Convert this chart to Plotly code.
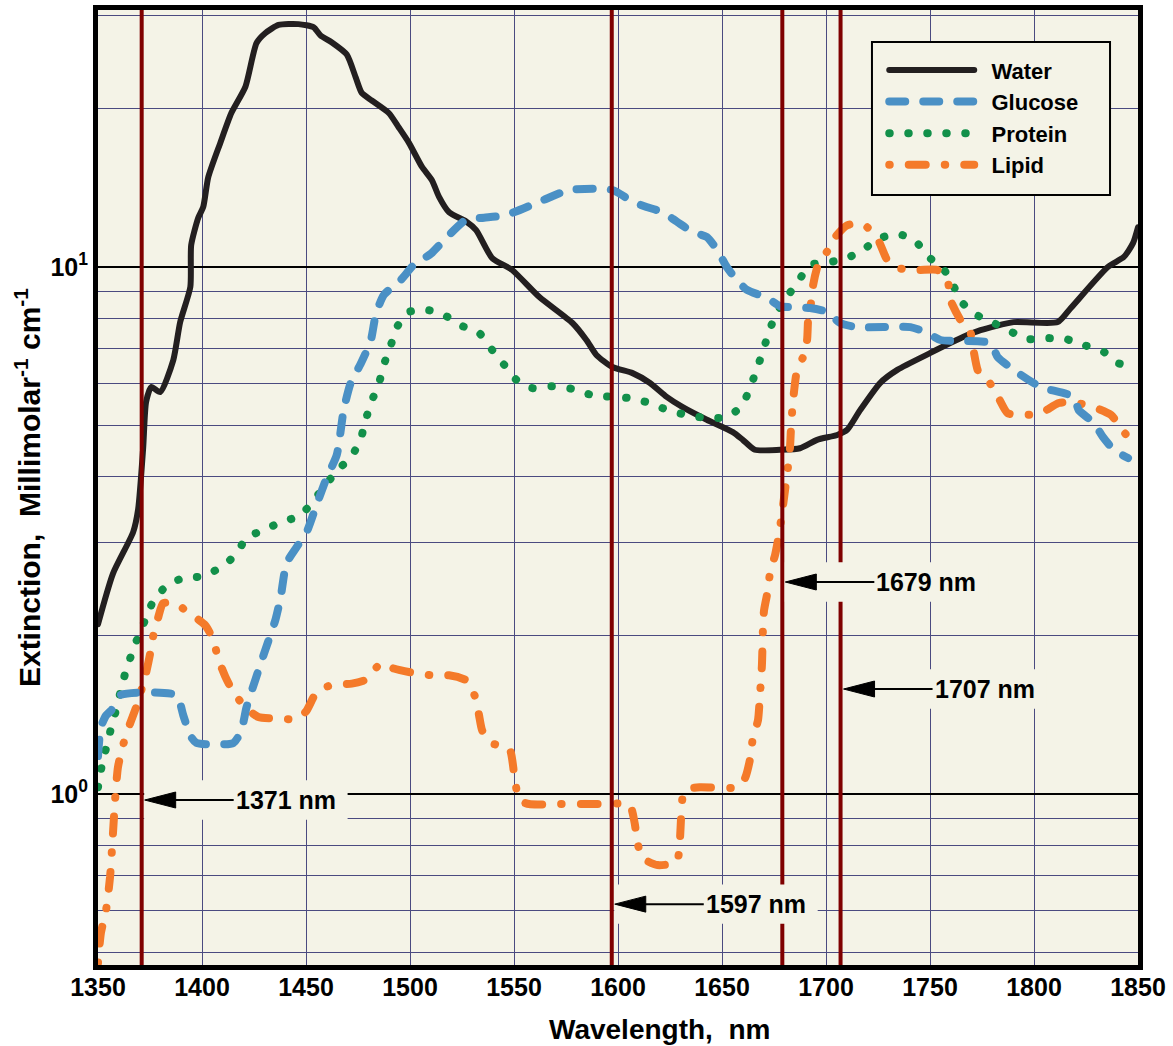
import numpy as np
import plotly.graph_objects as go

# ---------------- data ----------------
water_nm = [1350.0, 1357.2, 1366.9, 1369.3, 1371.7, 1373.1, 1375.6, 1379.9, 1386.2, 1389.5,
            1394.4, 1394.8, 1398.2, 1400.6, 1403.0, 1408.8, 1414.1, 1420.9, 1426.2, 1430.5,
            1436.8, 1446.4, 1453.7, 1457.0, 1462.3, 1469.6, 1473.9, 1476.8, 1481.6, 1489.8,
            1494.6, 1499.5, 1505.7, 1510.6, 1513.9, 1518.8, 1527.0, 1531.8, 1539.5, 1549.1,
            1562.2, 1578.1, 1584.8, 1589.6, 1597.3, 1607.0, 1615.2, 1623.4, 1631.1, 1642.7,
            1655.2, 1660.0, 1665.8, 1677.9, 1687.5, 1695.7, 1705.4, 1710.2, 1716.4, 1726.1,
            1734.3, 1750.2, 1766.1, 1774.3, 1790.2, 1811.4, 1817.7, 1835.5, 1843.2, 1847.6,
            1850.0]
water_val = [2.10, 2.62, 3.14, 3.47, 4.53, 5.54, 5.92, 5.79, 6.66, 7.86,
             9.17, 11.0, 12.4, 13.0, 14.8, 17.2, 19.6, 22.0, 26.6, 27.8,
             28.8, 28.9, 28.5, 27.5, 26.7, 25.3, 22.9, 21.4, 20.7, 19.6,
             18.4, 17.2, 15.5, 14.6, 13.6, 12.7, 12.2, 11.75, 10.4, 9.87,
             8.77, 7.83, 7.27, 6.81, 6.46, 6.29, 6.03, 5.67, 5.42, 5.13,
             4.86, 4.70, 4.50, 4.50, 4.53, 4.70, 4.80, 4.91, 5.35, 6.03,
             6.38, 6.87, 7.37, 7.59, 7.86, 7.86, 8.36, 10.0, 10.45, 11.1,
             11.9]

glucose_nm = [1350.0, 1351.4, 1353.9, 1356.3, 1360.6, 1387.6, 1391.0, 1394.4, 1397.3, 1415.1,
              1418.9, 1421.4, 1425.7, 1430.5, 1435.3, 1437.8, 1440.6, 1445.5, 1450.3, 1455.1,
              1459.9, 1464.8, 1468.1, 1471.5, 1476.3, 1481.1, 1483.6, 1487.4, 1495.6, 1501.9,
              1510.1, 1517.8, 1527.0, 1535.6, 1546.2, 1562.2, 1576.6, 1597.3, 1607.0, 1613.7,
              1621.5, 1628.2, 1635.9, 1642.7, 1647.5, 1652.3, 1657.1, 1662.0, 1671.6, 1677.9,
              1692.3, 1700.5, 1706.8, 1715.0, 1740.6, 1748.7, 1755.0, 1779.1, 1782.5, 1790.2,
              1803.2, 1819.1, 1821.5, 1828.8, 1833.1, 1838.4, 1845.2]
glucose_val = [1.18, 1.34, 1.41, 1.44, 1.54, 1.54, 1.41, 1.29, 1.25, 1.25,
               1.32, 1.46, 1.65, 1.88, 2.14, 2.36, 2.74, 2.94, 3.14, 3.54,
               3.98, 4.40, 5.35, 6.03, 6.55, 7.24, 8.14, 8.85, 9.45, 10.1,
               10.6, 11.4, 12.3, 12.4, 12.55, 13.3, 14.0, 14.0, 13.3, 13.0,
               12.7, 12.2, 11.65, 11.4, 10.8, 10.0, 9.45, 9.05, 8.74, 8.43,
               8.36, 8.22, 7.83, 7.69, 7.69, 7.50, 7.27, 7.17, 6.75, 6.38,
               5.92, 5.67, 5.35, 5.06, 4.76, 4.50, 4.34]

protein_nm = [1350.0, 1351.4, 1353.4, 1355.8, 1358.2, 1360.6, 1363.0, 1365.9, 1369.3, 1372.7,
              1376.5, 1382.8, 1391.0, 1400.6, 1408.8, 1416.1, 1421.4, 1429.6, 1438.2, 1447.4,
              1453.7, 1464.8, 1472.0, 1476.3, 1478.7, 1481.6, 1485.0, 1487.4, 1490.8, 1493.7,
              1499.5, 1509.1, 1517.3, 1525.0, 1533.2, 1539.5, 1545.3, 1551.1, 1558.8, 1568.4,
              1578.1, 1587.2, 1596.9, 1605.5, 1615.2, 1623.9, 1633.0, 1642.7, 1652.3, 1659.5,
              1663.4, 1666.8, 1669.7, 1672.6, 1675.9, 1681.2, 1686.5, 1692.3, 1701.0, 1710.2,
              1717.9, 1726.1, 1734.8, 1743.0, 1748.7, 1756.5, 1761.3, 1765.6, 1772.4, 1780.6,
              1788.3, 1797.0, 1806.1, 1815.3, 1824.0, 1833.6, 1840.4, 1849.5]
protein_val = [1.03, 1.11, 1.20, 1.31, 1.42, 1.55, 1.69, 1.83, 1.99, 2.14,
               2.32, 2.48, 2.57, 2.59, 2.69, 2.84, 3.06, 3.17, 3.28, 3.38,
               3.61, 4.10, 4.38, 4.72, 5.13, 5.57, 6.00, 6.52, 7.11, 7.69,
               8.22, 8.28, 8.07, 7.73, 7.50, 6.96, 6.52, 6.11, 5.89, 5.94,
               5.87, 5.72, 5.67, 5.64, 5.52, 5.35, 5.24, 5.17, 5.19, 5.45,
               5.89, 6.41, 6.93, 7.53, 8.14, 8.77, 9.37, 10.09, 10.2, 10.4,
               10.8, 11.35, 11.55, 11.2, 10.5, 9.91, 9.20, 8.55, 8.11, 7.83,
               7.56, 7.30, 7.33, 7.30, 7.11, 6.90, 6.57, 6.49]

lipid_nm = [1350.0, 1351.4, 1353.9, 1355.8, 1357.2, 1358.2, 1359.6, 1362.1, 1365.4, 1368.3,
            1372.7, 1375.1, 1376.5, 1378.9, 1381.3, 1387.1, 1393.4, 1401.6, 1405.4, 1407.9,
            1411.2, 1415.1, 1420.9, 1427.1, 1435.8, 1446.4, 1450.3, 1455.1, 1462.3, 1472.0,
            1479.2, 1486.0, 1492.2, 1500.9, 1510.6, 1518.8, 1527.4, 1531.8, 1533.2, 1534.7,
            1539.0, 1547.7, 1550.1, 1552.5, 1557.3, 1571.8, 1589.6, 1605.5, 1608.0, 1609.4,
            1611.8, 1619.0, 1628.2, 1629.6, 1630.1, 1631.1, 1633.0, 1639.3, 1657.1, 1661.0,
            1663.4, 1664.9, 1667.3, 1668.2, 1669.2, 1669.7, 1670.2, 1672.1, 1673.1, 1675.5,
            1676.9, 1678.4, 1680.3, 1681.7, 1682.7, 1683.2, 1684.1, 1686.1, 1689.0, 1690.9,
            1691.4, 1692.8, 1693.8, 1696.2, 1700.5, 1704.4, 1710.2, 1715.0, 1719.8, 1725.1,
            1729.5, 1734.3, 1743.9, 1753.6, 1758.4, 1759.8, 1764.7, 1769.5, 1770.9, 1773.3,
            1777.7, 1783.0, 1787.3, 1795.0, 1803.2, 1811.9, 1818.7, 1828.8, 1837.0, 1841.8,
            1847.6, 1850.0]
lipid_val = [0.478, 0.545, 0.603, 0.696, 0.843, 0.974, 1.125, 1.24, 1.36, 1.46,
             1.67, 1.85, 1.99, 2.16, 2.30, 2.30, 2.21, 2.09, 1.96, 1.80,
             1.67, 1.56, 1.46, 1.40, 1.39, 1.39, 1.44, 1.56, 1.61, 1.62,
             1.65, 1.77, 1.73, 1.70, 1.68, 1.68, 1.64, 1.51, 1.41, 1.32,
             1.25, 1.22, 1.09, 0.974, 0.957, 0.957, 0.957, 0.953, 0.881, 0.807,
             0.756, 0.733, 0.743, 0.800, 0.866, 0.987, 1.02, 1.03, 1.03, 1.07,
             1.16, 1.28, 1.38, 1.53, 1.76, 2.07, 2.23, 2.44, 2.63, 2.84,
             3.03, 3.31, 3.77, 4.17, 4.55, 4.97, 5.54, 6.38, 6.75, 7.27,
             7.93, 8.55, 9.24, 10.1, 10.7, 11.4, 12.0, 12.1, 11.9, 11.25,
             10.3, 9.96, 9.87, 9.87, 9.45, 8.66, 7.93, 7.50, 6.96, 6.32,
             6.11, 5.64, 5.28, 5.24, 5.28, 5.52, 5.54, 5.42, 5.24, 4.95,
             4.63, 4.55]

marker_nm = [1371, 1597, 1679, 1707]
marker_labels = ["1371 nm", "1597 nm", "1679 nm", "1707 nm"]
marker_label_y = [0.974, 0.618, 2.525, 1.582]

x_ticks = [1350, 1400, 1450, 1500, 1550, 1600, 1650, 1700, 1750, 1800, 1850]
y_major = [1, 10]
y_major_text = ["10<sup>0</sup>", "10<sup>1</sup>"]
y_minor = [0.5, 0.6, 0.7, 0.8, 0.9, 2, 3, 4, 5, 6, 7, 8, 9, 20, 30]

x_title = "Wavelength,&nbsp;&nbsp;nm"
y_title = "Extinction,&nbsp;&nbsp;Millimolar<sup>-1</sup> cm<sup>-1</sup>"

# ---------------- styling ----------------
BG = "#f4f3e7"
GRID = "#4a4a80"
FONT = "Liberation Sans, Arial, sans-serif"
SMOOTH = 0.6

fig = go.Figure()

fig.add_trace(go.Scatter(x=water_nm, y=water_val, name="&nbsp;&nbsp;Water", mode="lines",
                         line=dict(color="#231f20", width=6, shape="spline", smoothing=SMOOTH),
                         legendrank=1))
fig.add_trace(go.Scatter(x=protein_nm, y=protein_val, name="&nbsp;&nbsp;Protein", mode="lines",
                         line=dict(color="#12904a", width=8, dash="0.5px,18.5px",
                                   shape="spline", smoothing=SMOOTH), legendrank=3))
fig.add_trace(go.Scatter(x=lipid_nm, y=lipid_val, name="&nbsp;&nbsp;Lipid", mode="lines",
                         line=dict(color="#f47a2a", width=8, dash="0.5px,19px,17px,19px",
                                   shape="spline", smoothing=SMOOTH), legendrank=4))
fig.add_trace(go.Scatter(x=glucose_nm, y=glucose_val, name="&nbsp;&nbsp;Glucose", mode="lines",
                         line=dict(color="#4a90c5", width=8, dash="16px,18px",
                                   shape="spline", smoothing=SMOOTH), legendrank=2))

shapes = []
# legend frame
shapes.append(dict(type="rect", xref="paper", yref="paper", x0=0.7442, x1=0.9731,
                   y0=0.8063, y1=0.9665, fillcolor=BG, line=dict(color="black", width=2),
                   layer="above"))
for nm in marker_nm:
    shapes.append(dict(type="line", xref="x", yref="paper", x0=nm, x1=nm, y0=0, y1=1,
                       line=dict(color="#7f0000", width=4), layer="above"))
for nm, ly in zip(marker_nm, marker_label_y):
    shapes.append(dict(type="rect", xref="x", yref="y", x0=nm + 1.2, x1=nm + 99,
                       y0=ly / 1.09, y1=ly * 1.09, fillcolor=BG, line=dict(width=0),
                       layer="above"))
    # arrow head (long narrow triangle), sized in pixels at the marker line
    shapes.append(dict(type="path", xref="x", yref="y", xsizemode="pixel", ysizemode="pixel",
                       xanchor=nm, yanchor=ly, path="M 3,0 L 34,8 L 34,-8 Z",
                       fillcolor="black", line=dict(color="black", width=1), layer="above"))

annotations = []
for nm, txt, ly in zip(marker_nm, marker_labels, marker_label_y):
    annotations.append(dict(x=nm, y=np.log10(ly), xref="x", yref="y", text=txt,
                            showarrow=True, ax=92, ay=0, xanchor="left", yanchor="middle",
                            arrowhead=0, arrowwidth=2, arrowcolor="black",
                            standoff=30, bgcolor=BG, borderpad=1,
                            font=dict(family=FONT, size=25, color="black", weight="bold")))
# x-axis title (placed as in the reference, slightly right of centre)
annotations.append(dict(x=0.54, y=-0.068, xref="paper", yref="paper", text=x_title,
                        showarrow=False, xanchor="center", yanchor="middle",
                        font=dict(family=FONT, size=28, color="black", weight="bold")))

fig.update_layout(
    width=1173, height=1046,
    margin=dict(l=98, r=35, t=10, b=81),
    paper_bgcolor="white", plot_bgcolor=BG,
    font=dict(family=FONT, color="black"),
    shapes=shapes, annotations=annotations,
    showlegend=True,
    legend=dict(x=0.756, y=0.959, xanchor="left", yanchor="top",
                bgcolor="rgba(0,0,0,0)", borderwidth=0,
                itemwidth=85, tracegroupgap=0,
                font=dict(family=FONT, size=22, color="black", weight="bold")),
)

fig.update_xaxes(range=[1350, 1850], tickvals=x_ticks, ticks="",
                 showgrid=True, gridcolor=GRID, gridwidth=1,
                 showline=True, linecolor="black", linewidth=5, mirror=True,
                 zeroline=False, automargin=False, ticklabelstandoff=-4,
                 tickfont=dict(family=FONT, size=25, color="black", weight="bold"))

fig.update_yaxes(type="log", range=[-0.3245, 1.4877], tickvals=y_major, ticktext=y_major_text,
                 ticks="", showgrid=True, gridcolor="black", gridwidth=1.5,
                 minor=dict(tickvals=y_minor, showgrid=True, gridcolor=GRID, gridwidth=1, ticks=""),
                 showline=True, linecolor="black", linewidth=5, mirror=True,
                 zeroline=False, automargin=False,
                 tickfont=dict(family=FONT, size=25, color="black", weight="bold"),
                 title=dict(text=y_title, standoff=2,
                            font=dict(family=FONT, size=30, color="black", weight="bold")))

post_js = """
document.body.style.margin = '0';
var s = document.createElement('style');
s.innerHTML = 'body{margin:0 !important;} path.js-line { stroke-linecap: round !important; stroke-linejoin: round !important; }';
document.head.appendChild(s);
"""

fig.write_html("out.html", post_script=post_js, config={"displayModeBar": False})
